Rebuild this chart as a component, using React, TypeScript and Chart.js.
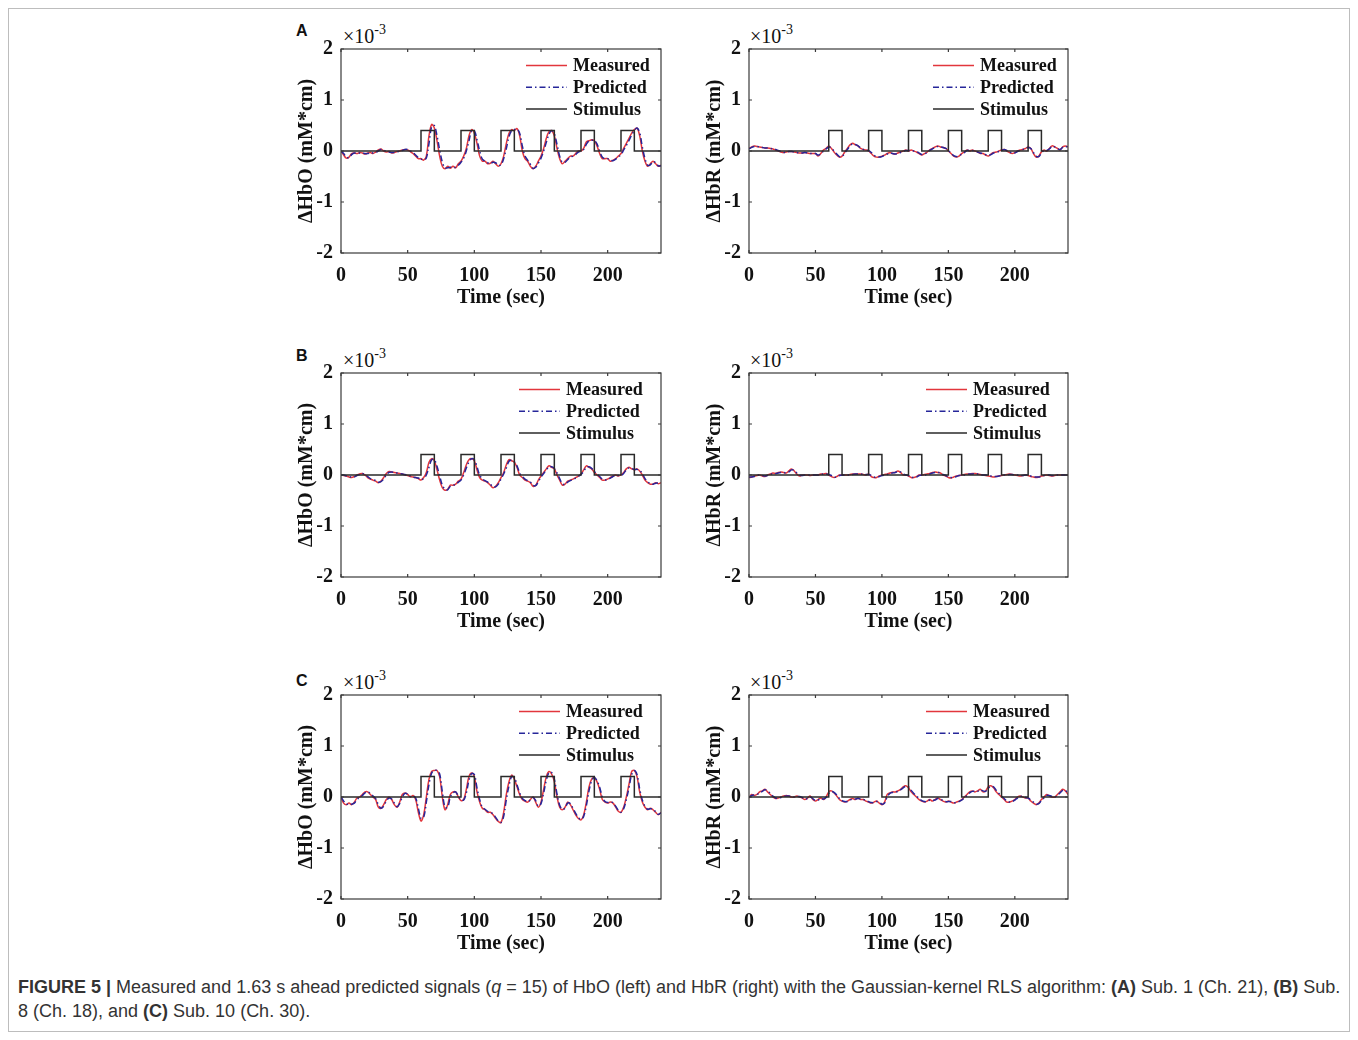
import React, { useEffect, useRef } from "react";
import { Chart, registerables } from "chart.js";

Chart.register(...registerables);

// ---------- data (values in units of 10^-3 mM*cm) ----------
const TIME = [
  0, 2, 4, 6, 8, 10, 12, 14, 16, 18,
  20, 22, 24, 26, 28, 30, 32, 34, 36, 38,
  40, 42, 44, 46, 48, 50, 52, 54, 56, 58,
  60, 62, 64, 66, 68, 70, 72, 74, 76, 78,
  80, 82, 84, 86, 88, 90, 92, 94, 96, 98,
  100, 102, 104, 106, 108, 110, 112, 114, 116, 118,
  120, 122, 124, 126, 128, 130, 132, 134, 136, 138,
  140, 142, 144, 146, 148, 150, 152, 154, 156, 158,
  160, 162, 164, 166, 168, 170, 172, 174, 176, 178,
  180, 182, 184, 186, 188, 190, 192, 194, 196, 198,
  200, 202, 204, 206, 208, 210, 212, 214, 216, 218,
  220, 222, 224, 226, 228, 230, 232, 234, 236, 238,
  240,
];

const STIM_T = [0, 60, 70, 90, 100, 120, 130, 150, 160, 180, 190, 210, 220, 240];
const STIM_V = [0, 0.4, 0, 0.4, 0, 0.4, 0, 0.4, 0, 0.4, 0, 0.4, 0, 0];

const X_TICKS = [0, 50, 100, 150, 200];
const Y_TICKS = [-2, -1, 0, 1, 2];
const LEGEND_LABELS = ["Measured", "Predicted", "Stimulus"];

const A_HBO_MEAS = [
  0.0, -0.08, -0.14, -0.12, -0.05, -0.04, -0.05, -0.03, -0.04, -0.06,
  -0.04, -0.03, -0.05, -0.02, 0.02, 0.04, 0.0, -0.02, -0.01, -0.04,
  -0.03, -0.01, 0.0, 0.02, 0.03, 0.02, -0.01, -0.05, -0.1, -0.15,
  -0.15, -0.18, -0.1, 0.3, 0.52, 0.45, 0.2, -0.1, -0.3, -0.35,
  -0.3, -0.34, -0.3, -0.33, -0.25, -0.2, -0.1, 0.05, 0.3, 0.42,
  0.35, 0.15, -0.1, -0.2, -0.2, -0.25, -0.24, -0.2, -0.25, -0.3,
  -0.25, -0.1, 0.15, 0.35, 0.42, 0.4, 0.44, 0.3, 0.0, -0.15,
  -0.2, -0.3, -0.35, -0.3, -0.2, -0.1, 0.05, 0.25, 0.38, 0.4,
  0.3, 0.05, -0.15, -0.25, -0.2, -0.15, -0.1, -0.1, -0.05, 0.0,
  0.0, 0.05, 0.18, 0.2, 0.22, 0.2, 0.1, -0.05, -0.15, -0.15,
  -0.15, -0.2, -0.18, -0.15, -0.1, -0.05, 0.05, 0.15, 0.25, 0.35,
  0.42, 0.45, 0.3, 0.0, -0.2, -0.3, -0.25, -0.2, -0.25, -0.3,
  -0.28,
];
const A_HBO_PRED = [
  0.0, -0.05, -0.12, -0.13, -0.07, -0.04, -0.05, -0.04, -0.04, -0.05,
  -0.05, -0.03, -0.04, -0.03, 0.0, 0.03, 0.02, -0.01, -0.02, -0.03,
  -0.03, -0.02, 0.0, 0.01, 0.03, 0.03, 0.0, -0.03, -0.08, -0.13,
  -0.16, -0.17, -0.14, 0.15, 0.48, 0.5, 0.3, 0.02, -0.22, -0.33,
  -0.33, -0.32, -0.32, -0.32, -0.28, -0.22, -0.14, 0.0, 0.2, 0.4,
  0.4, 0.22, 0.0, -0.16, -0.2, -0.23, -0.25, -0.22, -0.23, -0.28,
  -0.27, -0.15, 0.05, 0.28, 0.4, 0.42, 0.43, 0.35, 0.1, -0.1,
  -0.18, -0.26, -0.34, -0.32, -0.24, -0.14, 0.0, 0.17, 0.33, 0.4,
  0.34, 0.13, -0.1, -0.22, -0.22, -0.17, -0.12, -0.1, -0.07, -0.02,
  0.0, 0.03, 0.13, 0.2, 0.21, 0.21, 0.14, 0.0, -0.12, -0.15,
  -0.15, -0.18, -0.19, -0.16, -0.12, -0.07, 0.02, 0.11, 0.21, 0.31,
  0.4, 0.45, 0.36, 0.08, -0.15, -0.28, -0.27, -0.21, -0.23, -0.29,
  -0.29,
];
const A_HBR_MEAS = [
  0.05, 0.08, 0.1, 0.09, 0.08, 0.07, 0.06, 0.06, 0.05, 0.04,
  0.02, 0.0, -0.02, -0.03, -0.02, -0.01, -0.01, -0.02, -0.03, -0.04,
  -0.04, -0.03, -0.04, -0.05, -0.05, -0.05, -0.1, -0.05, 0.02, 0.05,
  0.1, 0.05, -0.02, -0.08, -0.12, -0.1, -0.02, 0.05, 0.12, 0.15,
  0.12, 0.1, 0.05, 0.03, 0.02, 0.0, -0.05, -0.1, -0.12, -0.12,
  -0.1, -0.08, -0.05, -0.03, -0.05, -0.06, -0.04, -0.02, 0.0, 0.02,
  0.0, 0.02, 0.0, -0.02, -0.05, -0.08, -0.05, -0.02, 0.02, 0.05,
  0.08, 0.1, 0.08, 0.07, 0.05, 0.0, -0.05, -0.1, -0.12, -0.1,
  -0.05, -0.02, 0.02, 0.0, 0.02, 0.0, -0.02, -0.05, -0.05, -0.08,
  -0.1, -0.06, -0.03, -0.02, 0.0, 0.02, 0.03, 0.0, -0.03, -0.05,
  -0.03, 0.0, 0.02, 0.03, 0.05, 0.08, 0.05, -0.05, -0.12, -0.1,
  -0.02, 0.02, 0.0, 0.05, 0.1, 0.08, 0.05, 0.02, 0.08, 0.1,
  0.08,
];
const A_HBR_PRED = [
  0.04, 0.07, 0.09, 0.09, 0.08, 0.07, 0.06, 0.06, 0.05, 0.04,
  0.03, 0.01, -0.01, -0.03, -0.02, -0.01, -0.01, -0.02, -0.03, -0.04,
  -0.04, -0.03, -0.04, -0.05, -0.05, -0.05, -0.08, -0.06, 0.0, 0.04,
  0.08, 0.06, 0.0, -0.06, -0.11, -0.11, -0.04, 0.03, 0.1, 0.14,
  0.13, 0.1, 0.06, 0.03, 0.02, 0.01, -0.03, -0.08, -0.11, -0.12,
  -0.11, -0.08, -0.06, -0.04, -0.05, -0.06, -0.05, -0.03, -0.01, 0.01,
  0.01, 0.01, 0.0, -0.01, -0.04, -0.07, -0.06, -0.03, 0.01, 0.04,
  0.07, 0.09, 0.08, 0.07, 0.05, 0.01, -0.04, -0.09, -0.11, -0.1,
  -0.06, -0.03, 0.01, 0.01, 0.01, 0.0, -0.02, -0.04, -0.05, -0.07,
  -0.09, -0.07, -0.04, -0.02, -0.01, 0.01, 0.03, 0.01, -0.02, -0.04,
  -0.04, -0.01, 0.01, 0.03, 0.04, 0.07, 0.05, -0.03, -0.1, -0.11,
  -0.04, 0.01, 0.01, 0.04, 0.09, 0.08, 0.05, 0.03, 0.07, 0.09,
  0.08,
];

const B_HBO_MEAS = [
  0.0, -0.01, -0.02, -0.04, -0.05, -0.03, 0.0, 0.02, 0.03, 0.0,
  -0.05, -0.08, -0.1, -0.12, -0.15, -0.12, -0.05, 0.03, 0.07, 0.06,
  0.05, 0.04, 0.03, 0.02, 0.0, -0.01, -0.03, -0.04, -0.05, -0.07,
  -0.1, -0.05, 0.05, 0.25, 0.32, 0.28, 0.1, -0.1, -0.25, -0.3,
  -0.28, -0.2, -0.2, -0.18, -0.12, -0.08, 0.05, 0.2, 0.3, 0.32,
  0.28, 0.1, -0.05, -0.1, -0.12, -0.15, -0.2, -0.25, -0.22, -0.15,
  -0.05, 0.05, 0.2, 0.3, 0.28, 0.25, 0.15, 0.0, -0.05, -0.1,
  -0.12, -0.15, -0.22, -0.2, -0.1, -0.02, 0.05, 0.12, 0.18, 0.15,
  0.12, 0.0, -0.1, -0.2, -0.18, -0.12, -0.1, -0.08, -0.05, -0.02,
  0.02, 0.1, 0.18, 0.15, 0.12, 0.05, 0.0, -0.05, -0.1, -0.1,
  -0.08, -0.05, -0.02, 0.0, -0.02, 0.0, 0.05, 0.12, 0.15, 0.12,
  0.1, 0.12, 0.08, 0.0, -0.1, -0.15, -0.18, -0.18, -0.15, -0.17,
  -0.15,
];
const B_HBO_PRED = [
  0.0, 0.0, -0.02, -0.03, -0.04, -0.04, -0.01, 0.01, 0.03, 0.01,
  -0.03, -0.07, -0.09, -0.11, -0.14, -0.13, -0.08, 0.0, 0.05, 0.06,
  0.05, 0.04, 0.03, 0.02, 0.01, -0.01, -0.02, -0.04, -0.05, -0.06,
  -0.09, -0.07, 0.0, 0.15, 0.3, 0.3, 0.17, -0.02, -0.2, -0.28,
  -0.29, -0.22, -0.2, -0.19, -0.14, -0.1, 0.0, 0.14, 0.26, 0.32,
  0.3, 0.16, 0.0, -0.08, -0.11, -0.14, -0.18, -0.23, -0.23, -0.18,
  -0.08, 0.02, 0.14, 0.27, 0.29, 0.26, 0.18, 0.04, -0.03, -0.08,
  -0.11, -0.14, -0.2, -0.21, -0.13, -0.04, 0.03, 0.1, 0.16, 0.16,
  0.13, 0.04, -0.07, -0.17, -0.19, -0.14, -0.11, -0.09, -0.06, -0.03,
  0.01, 0.07, 0.15, 0.16, 0.13, 0.07, 0.02, -0.03, -0.08, -0.1,
  -0.09, -0.06, -0.03, -0.01, -0.01, -0.01, 0.03, 0.1, 0.14, 0.13,
  0.11, 0.11, 0.09, 0.03, -0.07, -0.13, -0.17, -0.18, -0.16, -0.16,
  -0.16,
];
const B_HBR_MEAS = [
  -0.05, -0.04, -0.02, -0.01, 0.0, -0.02, -0.03, 0.0, 0.02, 0.04,
  0.03, 0.05, 0.06, 0.05, 0.04, 0.08, 0.12, 0.08, 0.02, -0.02,
  0.0, 0.0, 0.0, -0.01, 0.0, 0.0, 0.0, 0.02, 0.02, 0.03,
  0.0, -0.03, -0.05, -0.03, 0.0, 0.0, 0.0, 0.0, 0.01, 0.02,
  0.02, 0.02, 0.02, 0.01, 0.0, 0.02, -0.03, -0.05, -0.05, -0.02,
  0.0, 0.01, 0.02, 0.04, 0.05, 0.05, 0.08, 0.05, 0.0, 0.0,
  -0.02, -0.05, -0.05, -0.03, 0.0, 0.0, 0.01, 0.02, 0.03, 0.05,
  0.06, 0.05, 0.04, 0.0, -0.02, -0.05, -0.06, -0.04, -0.02, -0.01,
  0.0, 0.01, 0.02, 0.02, 0.03, 0.03, 0.02, 0.01, 0.0, -0.01,
  -0.02, -0.03, -0.04, -0.03, -0.02, -0.01, 0.0, 0.01, 0.02, 0.01,
  0.0, -0.01, -0.02, -0.01, 0.0, -0.01, -0.03, -0.04, -0.05, -0.04,
  -0.02, -0.01, 0.0, -0.01, -0.02, -0.01, 0.0, 0.0, 0.0, 0.0,
  0.0,
];
const B_HBR_PRED = [
  -0.04, -0.04, -0.03, -0.01, 0.0, -0.01, -0.02, -0.01, 0.01, 0.03,
  0.03, 0.04, 0.05, 0.05, 0.04, 0.06, 0.1, 0.09, 0.04, 0.0,
  -0.01, 0.0, 0.0, 0.0, 0.0, 0.0, 0.0, 0.01, 0.02, 0.02,
  0.01, -0.01, -0.04, -0.04, -0.01, 0.0, 0.0, 0.0, 0.0, 0.01,
  0.02, 0.02, 0.02, 0.01, 0.01, 0.01, -0.01, -0.04, -0.05, -0.03,
  -0.01, 0.0, 0.01, 0.03, 0.04, 0.05, 0.07, 0.06, 0.02, 0.0,
  -0.01, -0.04, -0.05, -0.04, -0.01, 0.0, 0.0, 0.01, 0.02, 0.04,
  0.05, 0.05, 0.04, 0.01, -0.01, -0.04, -0.05, -0.05, -0.03, -0.01,
  0.0, 0.0, 0.01, 0.02, 0.02, 0.03, 0.02, 0.01, 0.0, 0.0,
  -0.01, -0.02, -0.03, -0.03, -0.02, -0.01, 0.0, 0.0, 0.01, 0.01,
  0.0, 0.0, -0.01, -0.01, 0.0, 0.0, -0.02, -0.03, -0.04, -0.04,
  -0.03, -0.01, 0.0, 0.0, -0.01, -0.01, 0.0, 0.0, 0.0, 0.0,
  0.0,
];

const C_HBO_MEAS = [
  0.0, -0.12, -0.15, -0.12, -0.15, -0.1, -0.02, 0.0, 0.05, 0.1,
  0.1, 0.05, 0.0, -0.05, -0.2, -0.22, -0.15, -0.05, 0.0, -0.05,
  -0.15, -0.2, -0.1, 0.05, 0.08, 0.05, 0.0, 0.03, -0.05, -0.3,
  -0.47, -0.35, 0.0, 0.35, 0.5, 0.52, 0.52, 0.4, 0.0, -0.25,
  -0.15, 0.05, 0.1, 0.1, 0.0, -0.07, -0.05, 0.15, 0.4, 0.47,
  0.4, 0.1, -0.1, -0.22, -0.25, -0.3, -0.3, -0.35, -0.42, -0.48,
  -0.5, -0.3, 0.05, 0.3, 0.43, 0.35, 0.2, 0.05, -0.05, -0.08,
  -0.1, -0.05, 0.0, -0.1, -0.2, -0.1, 0.15, 0.4, 0.5, 0.45,
  0.3, 0.0, -0.2, -0.25, -0.2, -0.1, -0.15, -0.25, -0.35, -0.42,
  -0.45, -0.35, -0.1, 0.2, 0.35, 0.38, 0.3, 0.15, -0.05, -0.1,
  -0.12, -0.1, -0.12, -0.2, -0.28, -0.3, -0.2, 0.0, 0.25, 0.5,
  0.52, 0.4, 0.1, -0.1, -0.2, -0.25, -0.22, -0.25, -0.3, -0.35,
  -0.3,
];
const C_HBO_PRED = [
  0.0, -0.08, -0.14, -0.13, -0.14, -0.12, -0.05, -0.01, 0.03, 0.08,
  0.1, 0.07, 0.02, -0.03, -0.15, -0.22, -0.18, -0.08, -0.02, -0.04,
  -0.12, -0.19, -0.13, 0.0, 0.07, 0.06, 0.01, 0.02, -0.02, -0.22,
  -0.42, -0.4, -0.1, 0.25, 0.47, 0.52, 0.52, 0.45, 0.1, -0.2,
  -0.2, 0.0, 0.08, 0.1, 0.02, -0.05, -0.06, 0.08, 0.33, 0.46,
  0.44, 0.18, -0.05, -0.2, -0.24, -0.28, -0.3, -0.33, -0.4, -0.47,
  -0.5, -0.38, -0.05, 0.22, 0.4, 0.38, 0.24, 0.08, -0.03, -0.07,
  -0.09, -0.06, -0.01, -0.07, -0.18, -0.13, 0.08, 0.33, 0.48, 0.48,
  0.35, 0.06, -0.16, -0.24, -0.22, -0.12, -0.13, -0.22, -0.32, -0.4,
  -0.44, -0.38, -0.17, 0.12, 0.32, 0.38, 0.32, 0.19, 0.0, -0.09,
  -0.11, -0.1, -0.11, -0.18, -0.26, -0.3, -0.23, -0.05, 0.18, 0.44,
  0.52, 0.44, 0.16, -0.06, -0.18, -0.24, -0.23, -0.24, -0.29, -0.34,
  -0.31,
];
const C_HBR_MEAS = [
  -0.02, 0.05, 0.03, 0.05, 0.1, 0.12, 0.15, 0.1, 0.05, 0.0,
  -0.03, -0.02, 0.0, 0.02, 0.03, 0.02, 0.0, 0.0, 0.02, 0.0,
  -0.02, -0.05, -0.02, 0.02, -0.05, -0.08, -0.05, -0.02, -0.05, 0.0,
  0.1, 0.12, 0.08, 0.02, -0.05, -0.08, -0.1, -0.08, -0.05, -0.03,
  -0.05, -0.02, -0.05, -0.05, -0.08, -0.1, -0.12, -0.1, -0.08, -0.12,
  -0.15, -0.1, 0.05, 0.08, 0.1, 0.1, 0.12, 0.15, 0.2, 0.22,
  0.18, 0.1, 0.05, 0.0, -0.05, -0.08, -0.1, -0.08, -0.05, -0.08,
  -0.05, -0.02, -0.05, -0.08, -0.1, -0.08, -0.1, -0.12, -0.1, -0.08,
  -0.05, 0.0, 0.05, 0.1, 0.12, 0.1, 0.12, 0.15, 0.1, 0.12,
  0.2, 0.22, 0.18, 0.1, 0.05, 0.0, -0.05, -0.1, -0.1, -0.08,
  -0.05, 0.0, 0.02, 0.0, -0.02, -0.02, -0.08, -0.12, -0.15, -0.12,
  -0.05, 0.0, 0.05, 0.02, 0.0, 0.0, 0.05, 0.1, 0.15, 0.12,
  0.05,
];
const C_HBR_PRED = [
  -0.01, 0.03, 0.04, 0.05, 0.08, 0.11, 0.14, 0.12, 0.07, 0.02,
  -0.02, -0.02, -0.01, 0.01, 0.02, 0.02, 0.01, 0.0, 0.01, 0.01,
  -0.01, -0.04, -0.03, 0.0, -0.03, -0.07, -0.06, -0.03, -0.04, -0.01,
  0.07, 0.11, 0.09, 0.04, -0.03, -0.07, -0.09, -0.09, -0.06, -0.04,
  -0.04, -0.03, -0.04, -0.05, -0.07, -0.09, -0.11, -0.11, -0.09, -0.1,
  -0.14, -0.12, 0.0, 0.07, 0.09, 0.1, 0.11, 0.14, 0.18, 0.21,
  0.2, 0.13, 0.07, 0.02, -0.03, -0.07, -0.09, -0.09, -0.06, -0.07,
  -0.06, -0.03, -0.04, -0.07, -0.09, -0.09, -0.09, -0.11, -0.11, -0.09,
  -0.06, -0.02, 0.03, 0.08, 0.11, 0.11, 0.11, 0.14, 0.12, 0.11,
  0.17, 0.21, 0.2, 0.13, 0.07, 0.02, -0.03, -0.08, -0.1, -0.09,
  -0.06, -0.02, 0.01, 0.01, -0.01, -0.02, -0.06, -0.1, -0.14, -0.13,
  -0.07, -0.02, 0.03, 0.03, 0.01, 0.0, 0.03, 0.08, 0.13, 0.13,
  0.07,
];

// ---------- styling ----------
const SERIF = '"Liberation Serif", "Times New Roman", serif';
const SANS = '"Liberation Sans", Arial, Helvetica, sans-serif';
const RED = "#e2363c";
const BLUE = "#26269a";
const STIM = "#2a2a2a";
const DASHDOT = [6, 3, 1.5, 3];

const Y_AXIS_W = 56;
const X_AXIS_H = 60;
const PAD_TOP = 22;
const PAD_RIGHT = 6;
const OFF = 8; // body margin

const boxPlugin = {
  id: "matlabBox",
  afterDraw(chart: any) {
    const { ctx, chartArea: a, scales } = chart;
    ctx.save();
    ctx.strokeStyle = "#3a3a3a";
    ctx.lineWidth = 1.2;
    ctx.strokeRect(a.left, a.top, a.right - a.left, a.bottom - a.top);
    const len = 3;
    ctx.beginPath();
    X_TICKS.forEach((v) => {
      const x = scales.x.getPixelForValue(v);
      ctx.moveTo(x, a.bottom);
      ctx.lineTo(x, a.bottom - len);
      ctx.moveTo(x, a.top);
      ctx.lineTo(x, a.top + len);
    });
    Y_TICKS.forEach((v) => {
      const y = scales.y.getPixelForValue(v);
      ctx.moveTo(a.left, y);
      ctx.lineTo(a.left + len, y);
      ctx.moveTo(a.right, y);
      ctx.lineTo(a.right - len, y);
    });
    ctx.stroke();
    ctx.restore();
  },
};

const legendPlugin = {
  id: "innerLegend",
  afterDraw(chart: any, _args: any, opts: any) {
    const { ctx, chartArea: a } = chart;
    const tx = a.right + (opts.dx ?? -90);
    ctx.save();
    ctx.font = `bold 18px ${SERIF}`;
    ctx.textBaseline = "middle";
    ctx.textAlign = "left";
    LEGEND_LABELS.forEach((label, i) => {
      const ds = chart.data.datasets[i];
      const y = a.top + 16.5 + i * 21.8;
      ctx.beginPath();
      ctx.strokeStyle = ds.borderColor;
      ctx.lineWidth = ds.borderWidth;
      ctx.setLineDash(ds.borderDash || []);
      ctx.moveTo(tx - 47, y);
      ctx.lineTo(tx - 6, y);
      ctx.stroke();
      ctx.setLineDash([]);
      ctx.fillStyle = "#111";
      ctx.fillText(label, tx, y + 1);
    });
    ctx.restore();
  },
};

type PanelProps = {
  meas: number[];
  pred: number[];
  yTitle: string;
  plotLeft: number;
  plotTop: number;
  plotWidth: number;
  plotHeight: number;
  legendDx: number;
};

function Panel(p: PanelProps) {
  const ref = useRef<HTMLCanvasElement | null>(null);
  const cw = Y_AXIS_W + p.plotWidth + PAD_RIGHT;
  const ch = PAD_TOP + p.plotHeight + X_AXIS_H;

  useEffect(() => {
    if (!ref.current) return;
    const tickFont = { family: SERIF, size: 20, weight: "bold" as const };
    const chart = new Chart(ref.current, {
      type: "line",
      data: {
        datasets: [
          {
            label: LEGEND_LABELS[0],
            data: TIME.map((t, i) => ({ x: t, y: p.meas[i] })),
            borderColor: RED,
            borderWidth: 1.5,
            pointRadius: 0,
            tension: 0.35,
            order: 3,
          },
          {
            label: LEGEND_LABELS[1],
            data: TIME.map((t, i) => ({ x: t, y: p.pred[i] })),
            borderColor: BLUE,
            borderWidth: 1.5,
            borderDash: DASHDOT,
            pointRadius: 0,
            tension: 0.35,
            order: 2,
          },
          {
            label: LEGEND_LABELS[2],
            data: STIM_T.map((t, i) => ({ x: t, y: STIM_V[i] })),
            borderColor: STIM,
            borderWidth: 1.5,
            pointRadius: 0,
            stepped: true,
            order: 1,
          },
        ],
      },
      options: {
        animation: false,
        responsive: false,
        devicePixelRatio: 1,
        layout: { padding: { top: PAD_TOP, right: PAD_RIGHT, left: 0, bottom: 0 } },
        plugins: {
          legend: { display: false },
          tooltip: { enabled: false },
          innerLegend: { dx: p.legendDx },
        } as any,
        scales: {
          x: {
            type: "linear",
            min: 0,
            max: 240,
            grid: { display: false, drawTicks: false },
            border: { display: false },
            afterBuildTicks: (s: any) => {
              s.ticks = X_TICKS.map((v) => ({ value: v }));
            },
            afterFit: (s: any) => {
              s.height = X_AXIS_H;
            },
            ticks: {
              font: tickFont,
              color: "#111",
              padding: 11,
              maxRotation: 0,
              autoSkip: false,
            },
            title: {
              display: true,
              text: "Time (sec)",
              font: tickFont,
              color: "#111",
              padding: { top: 0, bottom: 3 },
            },
          },
          y: {
            type: "linear",
            min: -2,
            max: 2,
            grid: { display: false, drawTicks: false },
            border: { display: false },
            afterBuildTicks: (s: any) => {
              s.ticks = Y_TICKS.map((v) => ({ value: v }));
            },
            afterFit: (s: any) => {
              s.width = Y_AXIS_W;
            },
            ticks: {
              font: tickFont,
              color: "#111",
              padding: 8,
              autoSkip: false,
            },
            title: {
              display: true,
              text: p.yTitle,
              font: tickFont,
              color: "#111",
              padding: { top: 10, bottom: 0 },
            },
          },
        },
      },
      plugins: [boxPlugin, legendPlugin],
    });
    return () => chart.destroy();
  }, []);

  return (
    <canvas
      ref={ref}
      width={cw}
      height={ch}
      style={{
        position: "absolute",
        left: p.plotLeft - Y_AXIS_W - OFF,
        top: p.plotTop - PAD_TOP - OFF,
        width: cw,
        height: ch,
      }}
    />
  );
}

function Exponent({ left, top }: { left: number; top: number }) {
  return (
    <div
      style={{
        position: "absolute",
        left: left - OFF,
        top: top - OFF,
        fontFamily: SERIF,
        fontSize: 20,
        lineHeight: "20px",
        color: "#111",
        whiteSpace: "nowrap",
      }}
    >
      ×10
      <span style={{ fontSize: 14, position: "relative", top: -9 }}>-3</span>
    </div>
  );
}

function Letter({ text, left, top }: { text: string; left: number; top: number }) {
  return (
    <div
      style={{
        position: "absolute",
        left: left - OFF,
        top: top - OFF,
        fontFamily: SANS,
        fontWeight: "bold",
        fontSize: 16,
        lineHeight: "16px",
        color: "#111",
      }}
    >
      {text}
    </div>
  );
}

const ROWS = [
  { letter: "A", top: 49, letterTop: 23, legendDx: -88, hbo: [A_HBO_MEAS, A_HBO_PRED], hbr: [A_HBR_MEAS, A_HBR_PRED] },
  { letter: "B", top: 373, letterTop: 348, legendDx: -95, hbo: [B_HBO_MEAS, B_HBO_PRED], hbr: [B_HBR_MEAS, B_HBR_PRED] },
  { letter: "C", top: 695, letterTop: 673, legendDx: -95, hbo: [C_HBO_MEAS, C_HBO_PRED], hbr: [C_HBR_MEAS, C_HBR_PRED] },
];

export default function App() {
  return (
    <div style={{ position: "relative", width: 1342, height: 1024 }}>
      <div
        style={{
          position: "absolute",
          left: 0,
          top: 0,
          width: 1342,
          height: 1024,
          border: "1px solid #bdbdbd",
          boxSizing: "border-box",
        }}
      />
      {ROWS.map((r) => (
        <React.Fragment key={r.letter}>
          <Letter text={r.letter} left={296} top={r.letterTop} />
          <Exponent left={343} top={r.top - 23} />
          <Exponent left={750} top={r.top - 23} />
          <Panel
            meas={r.hbo[0]}
            pred={r.hbo[1]}
            yTitle="ΔHbO (mM*cm)"
            plotLeft={341}
            plotTop={r.top}
            plotWidth={320}
            plotHeight={204}
            legendDx={r.legendDx}
          />
          <Panel
            meas={r.hbr[0]}
            pred={r.hbr[1]}
            yTitle="ΔHbR (mM*cm)"
            plotLeft={749}
            plotTop={r.top}
            plotWidth={319}
            plotHeight={204}
            legendDx={r.legendDx}
          />
        </React.Fragment>
      ))}
      <div
        style={{
          position: "absolute",
          left: 10,
          top: 967,
          fontFamily: SANS,
          fontSize: 18,
          lineHeight: "24px",
          color: "#333",
          whiteSpace: "nowrap",
        }}
      >
        <b>FIGURE 5 |</b> Measured and 1.63 s ahead predicted signals (<i>q</i> = 15) of HbO (left) and HbR
        (right) with the Gaussian-kernel RLS algorithm: <b>(A)</b> Sub. 1 (Ch. 21), <b>(B)</b> Sub.
        <br />8 (Ch. 18), and <b>(C)</b> Sub. 10 (Ch. 30).
      </div>
    </div>
  );
}
